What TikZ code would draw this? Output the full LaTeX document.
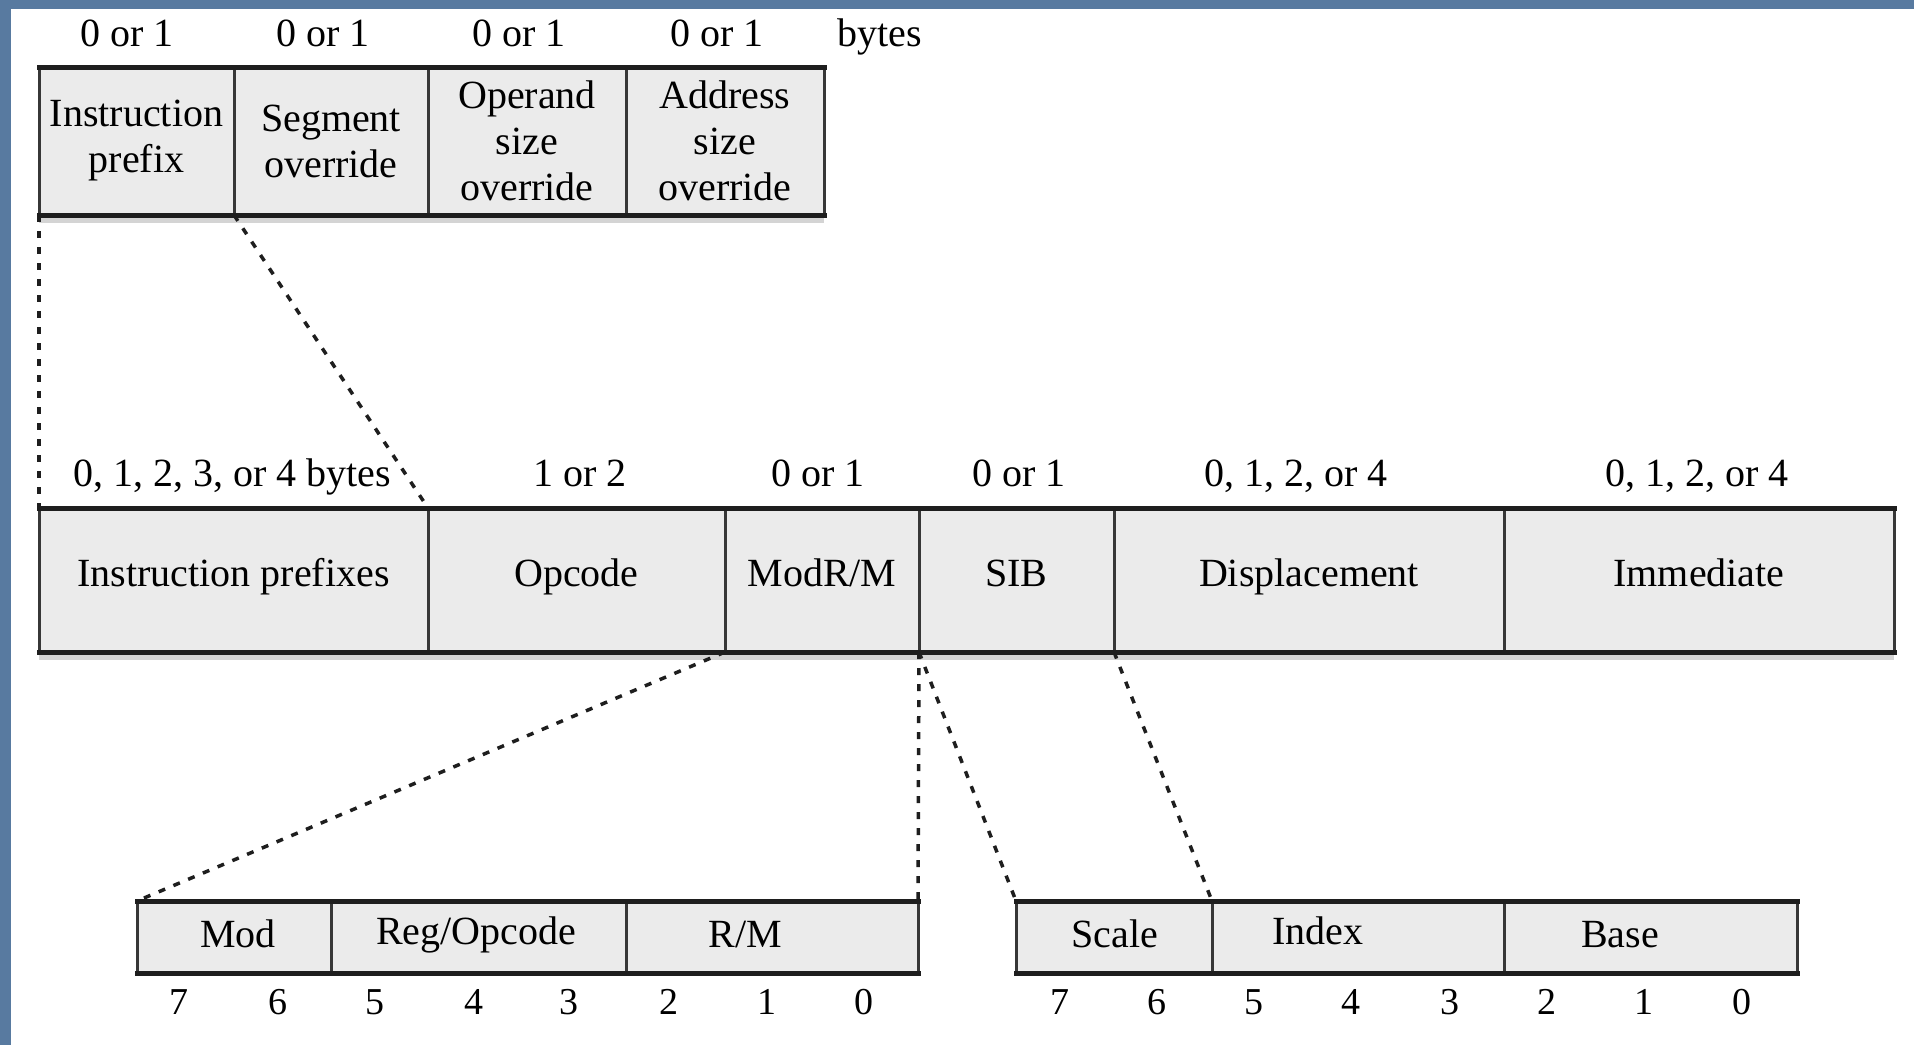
\documentclass[tikz,border=0pt]{standalone}
\usepackage{fontspec}
\setmainfont{Liberation Serif}
\definecolor{bgblue}{RGB}{88,122,160}
\definecolor{cellfill}{RGB}{235,235,235}
\definecolor{edgedark}{RGB}{30,30,30}
\definecolor{divgray}{RGB}{55,55,55}
\definecolor{shadowgray}{RGB}{212,212,212}
\begin{document}
\begin{tikzpicture}[x=1pt,y=-1pt,
  cell/.style={draw=divgray, line width=3pt, fill=cellfill, inner sep=0pt, outer sep=0pt,
    anchor=north west, align=center, font=\fontsize{40}{46}\selectfont},
  onecell/.style={cell, text height=27pt, text depth=15pt},
  lbl/.style={inner sep=0pt, text height=27pt, text depth=2pt, font=\fontsize{40}{46}\selectfont},
  bitlbl/.style={inner sep=0pt, text height=26pt, text depth=0pt, font=\fontsize{38}{44}\selectfont},
  edgeline/.style={draw=edgedark, line width=5pt, line cap=rect},
  shadeline/.style={draw=shadowgray, line width=5pt},
  conn/.style={draw=edgedark, line width=3.5pt, dash pattern=on 7pt off 9pt}]
% background with blue frame
\fill[bgblue] (0,0) rectangle (1914,1045);
\fill[white] (11,9) rectangle (1914,1045);
\useasboundingbox (0,0) rectangle (1914,1045);

% ---------- top row: prefix bytes ----------
\node[cell, minimum width=195pt, minimum height=148pt] (tip) at (39,67) {Instruction\\prefix};
\node[cell, minimum width=194pt, minimum height=148pt] (seg) at (234,67) {Segment\\override};
\node[cell, minimum width=198pt, minimum height=148pt] (opsz) at (428,67) {Operand\\size\\override};
\node[cell, minimum width=198pt, minimum height=148pt] (adsz) at (626,67) {Address\\size\\override};
\draw[shadeline] ([yshift=-5pt]tip.south west) -- ([yshift=-5pt]adsz.south east);
\draw[edgeline] (tip.north west) -- (adsz.north east);
\draw[edgeline] (tip.south west) -- (adsz.south east);

\node[lbl] (ttip) at (127,34) {0 or 1};
\node[lbl] (tseg) at (323,34) {0 or 1};
\node[lbl] (topsz) at (519,34) {0 or 1};
\node[lbl] (tadsz) at (717,34) {0 or 1};
\node[lbl] (tbytes) at (880,34) {bytes};

% ---------- middle row: instruction format ----------
\node[onecell, minimum width=389pt, minimum height=144pt] (ip) at (39,508) {Instruction prefixes};
\node[onecell, minimum width=297pt, minimum height=144pt] (opc) at (428,508) {Opcode};
\node[onecell, minimum width=194pt, minimum height=144pt] (modrm) at (725,508) {ModR/M};
\node[onecell, minimum width=195pt, minimum height=144pt] (sib) at (919,508) {SIB};
\node[onecell, minimum width=390pt, minimum height=144pt] (disp) at (1114,508) {Displacement};
\node[onecell, minimum width=390pt, minimum height=144pt] (imm) at (1504,508) {Immediate};
\draw[shadeline] ([yshift=-5pt]ip.south west) -- ([yshift=-5pt]imm.south east);
\draw[edgeline] (ip.north west) -- (imm.north east);
\draw[edgeline] (ip.south west) -- (imm.south east);

\node[lbl] (tip2) at (232,474) {0, 1, 2, 3, or 4 bytes};
\node[lbl] (topc) at (580,474) {1 or 2};
\node[lbl] (tmodrm) at (818,474) {0 or 1};
\node[lbl] (tsib) at (1019,474) {0 or 1};
\node[lbl] (tdisp) at (1296,474) {0, 1, 2, or 4};
\node[lbl] (timm) at (1697,474) {0, 1, 2, or 4};

% ---------- bottom left: ModR/M byte ----------
\node[cell, minimum width=194pt, minimum height=72pt] (mod) at (137,901) {};
\node[cell, minimum width=295pt, minimum height=72pt] (reg) at (331,901) {};
\node[cell, minimum width=292pt, minimum height=72pt] (rm) at (626,901) {};
\draw[edgeline] (mod.north west) -- (rm.north east);
\draw[edgeline] (mod.south west) -- (rm.south east);
\node[lbl] (tmod) at (238,935) {Mod};
\node[lbl] (treg) at (476,932) {Reg/Opcode};
\node[lbl] (trm) at (745,935) {R/M};
\foreach \x/\b in {179/7,278/6,375/5,474/4,569/3,669/2,767/1,864/0}
  \node[bitlbl] (mbit\b) at (\x,1001) {\b};

% ---------- bottom right: SIB byte ----------
\node[cell, minimum width=196pt, minimum height=72pt] (scale) at (1016,901) {};
\node[cell, minimum width=292pt, minimum height=72pt] (index) at (1212,901) {};
\node[cell, minimum width=293pt, minimum height=72pt] (base) at (1504,901) {};
\draw[edgeline] (scale.north west) -- (base.north east);
\draw[edgeline] (scale.south west) -- (base.south east);
\node[lbl] (tscale) at (1115,935) {Scale};
\node[lbl] (tindex) at (1318,932) {Index};
\node[lbl] (tbase) at (1620,935) {Base};
\foreach \x/\b in {1060/7,1157/6,1254/5,1351/4,1450/3,1547/2,1644/1,1742/0}
  \node[bitlbl] (sbit\b) at (\x,1001) {\b};

% ---------- dashed expansion connectors ----------
\draw[conn] (tip.south west) -- (ip.north west);
\draw[conn] (tip.south east) -- (ip.north east);
\draw[conn] (modrm.south west) -- (mod.north west);
\draw[conn] (modrm.south east) -- (rm.north east);
\draw[conn] (sib.south west) -- (scale.north west);
\draw[conn] (sib.south east) -- (scale.north east);
\end{tikzpicture}
\end{document}
